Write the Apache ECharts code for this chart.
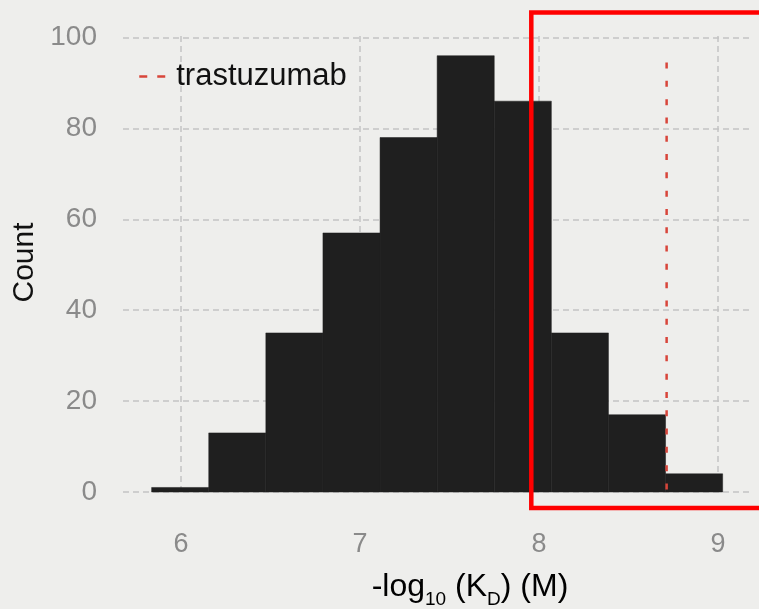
<!DOCTYPE html>
<html>
<head>
<meta charset="utf-8">
<script src="https://cdn.jsdelivr.net/npm/echarts@6/dist/echarts.min.js"></script>
<style>
  html, body { margin: 0; padding: 0; background: #eeeeec; }
  #chart { width: 759px; height: 609px; }
</style>
</head>
<body>
<div id="chart"></div>
<script>
// histogram bins (-log10 KD) and counts
const binEdges = [5.836, 6.155, 6.474, 6.793, 7.112, 7.431, 7.750, 8.069, 8.388, 8.707, 9.026];
const counts = [1, 13, 35, 57, 78, 96, 86, 35, 17, 4];
const xTicks = [6, 7, 8, 9];
const trastuzumabX = 8.713;
const trastuzumabTop = 94.5;

const FONT = "Liberation Sans";

const chart = echarts.init(document.getElementById("chart"));

const histData = counts.map((c, i) => [binEdges[i], binEdges[i + 1], c]);

chart.setOption({
  backgroundColor: "#eeeeec",
  animation: false,
  grid: { left: 123, right: 7, top: 33, bottom: 117 },
  legend: {
    data: ["trastuzumab"],
    left: 133,
    top: 56,
    itemWidth: 32,
    itemHeight: 14,
    itemStyle: { opacity: 0 },
    lineStyle: { type: [8, 10], width: 2.5 },
    textStyle: { fontFamily: FONT, fontSize: 31, color: "#111" }
  },
  xAxis: {
    type: "value",
    min: 5.676,
    max: 9.19,
    axisLine: { show: false },
    axisTick: { show: false, customValues: xTicks },
    splitLine: { show: false },
    axisLabel: {
      customValues: xTicks,
      margin: 39,
      fontFamily: FONT,
      fontSize: 27,
      color: "#8a8a8a"
    }
  },
  yAxis: {
    type: "value",
    min: 0,
    max: 101,
    interval: 20,
    name: "Count",
    nameLocation: "middle",
    nameGap: 80,
    nameTextStyle: { fontFamily: FONT, fontSize: 30, color: "#111" },
    axisLine: { show: false },
    axisTick: { show: false },
    axisLabel: {
      margin: 26,
      fontFamily: FONT,
      fontSize: 28,
      color: "#8a8a8a",
      formatter: v => (v > 100 ? "" : String(v))
    },
    splitLine: {
      showMaxLine: false,
      lineStyle: { color: "#c4c4c4", width: 1.5, type: [6, 4] }
    }
  },
  series: [
    {
      type: "custom",
      name: "hist",
      z: 2,
      encode: { x: [0, 1], y: 2 },
      data: histData,
      renderItem: function (params, api) {
        const p0 = api.coord([api.value(0), api.value(2)]);
        const p1 = api.coord([api.value(1), 0]);
        return {
          type: "rect",
          shape: { x: p0[0], y: p0[1], width: p1[0] - p0[0], height: p1[1] - p0[1] },
          style: { fill: "#1f1f1f", stroke: "#1f1f1f", lineWidth: 0.5 }
        };
      },
      markLine: {
        z: 0,
        silent: true,
        symbol: ["none", "none"],
        label: { show: false },
        lineStyle: { color: "#c4c4c4", width: 1.5, type: [6, 4] },
        data: xTicks.map(v => ({ xAxis: v }))
      }
    },
    {
      type: "line",
      name: "trastuzumab",
      z: 5,
      symbol: "none",
      showSymbol: false,
      lineStyle: { color: "#d8453a", width: 2.5, type: [6, 12.3] },
      itemStyle: { color: "#d8453a" },
      data: [[trastuzumabX, trastuzumabTop], [trastuzumabX, 0]]
    }
  ],
  graphic: [
    {
      type: "text",
      x: 470,
      y: 587,
      z: 10,
      style: {
        text: "{m|-log}{s|10}{m| (K}{s|D}{m|) (M)}",
        align: "center",
        verticalAlign: "middle",
        rich: {
          m: { fontFamily: FONT, fontSize: 32, color: "#111", lineHeight: 45 },
          s: { fontFamily: FONT, fontSize: 19, color: "#111", lineHeight: 19, verticalAlign: "bottom" }
        }
      }
    },
    {
      type: "rect",
      z: 20,
      shape: { x: 531.3, y: 12.5, width: 400, height: 495.5 },
      style: { fill: "none", stroke: "#ff0000", lineWidth: 4.5 }
    }
  ]
});
</script>
</body>
</html>
